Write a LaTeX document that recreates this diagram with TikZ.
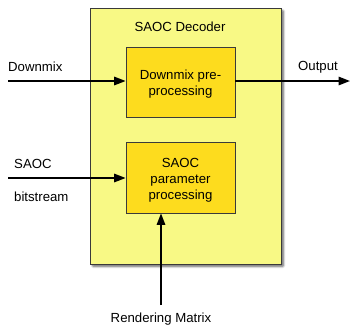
\documentclass[tikz,border=0pt]{standalone}
\usepackage{fontspec}
\setmainfont{Liberation Sans}
\usetikzlibrary{arrows.meta,shadows.blur}
\definecolor{outerfill}{HTML}{F8F985}
\definecolor{innerfill}{HTML}{FDDC1E}
\definecolor{edgecol}{HTML}{3A3A3A}
\tikzset{
  outerbox/.style={draw=edgecol, line width=1pt, fill=outerfill, minimum width=191pt, minimum height=256pt, inner sep=0pt,
    blur shadow={shadow xshift=2.5pt, shadow yshift=-2.5pt, shadow blur steps=6, shadow opacity=60, shadow blur extra rounding=1pt}},
  innerbox/.style={draw=edgecol, line width=0.8pt, fill=innerfill, minimum width=109pt, inner sep=0pt},
  lbl/.style={font=\fontsize{13.2}{16}\selectfont, inner sep=0pt},
  boxtext/.style={lbl, align=center},
  arr/.style={line width=1.6pt, -{Triangle[length=11.5pt,width=8.5pt]}}
}
\begin{document}
\begin{tikzpicture}[x=1pt,y=-1pt]
\useasboundingbox (0,0) rectangle (350,327);
\node[outerbox] (dec) at (185.5,136) {};
\node[lbl] (title) at (180,27) {SAOC Decoder};
\node[innerbox, minimum height=70.5pt] (dpp) at (180.5,82.5) {};
\node[innerbox, minimum height=71pt] (spp) at (180.5,177.5) {};
\node[boxtext] (dpptext) at (180.5,83.8) {Downmix pre-\\processing};
\node[boxtext] (spptext) at (180.5,179.8) {SAOC\\parameter\\processing};
\coordinate (dmin) at (8,81);
\coordinate (outend) at (350,81);
\coordinate (sin) at (8,178);
\coordinate (rmin) at (161,305);
\node[lbl, anchor=west] (ldm) at (8,67) {Downmix};
\node[lbl, anchor=west] (lout) at (298,67) {Output};
\node[lbl, anchor=west] (lsaoc) at (14,164) {SAOC};
\node[lbl, anchor=west] (lbit) at (14,197) {bitstream};
\node[lbl] (lrm) at (161,319) {Rendering Matrix};
\draw[arr] (dmin) -- (dmin -| dpp.west);
\draw[arr] (dpp.east |- outend) -- (outend);
\draw[arr] (sin) -- (sin -| spp.west);
\draw[arr] (rmin) -- (rmin |- spp.south);
\end{tikzpicture}
\end{document}
